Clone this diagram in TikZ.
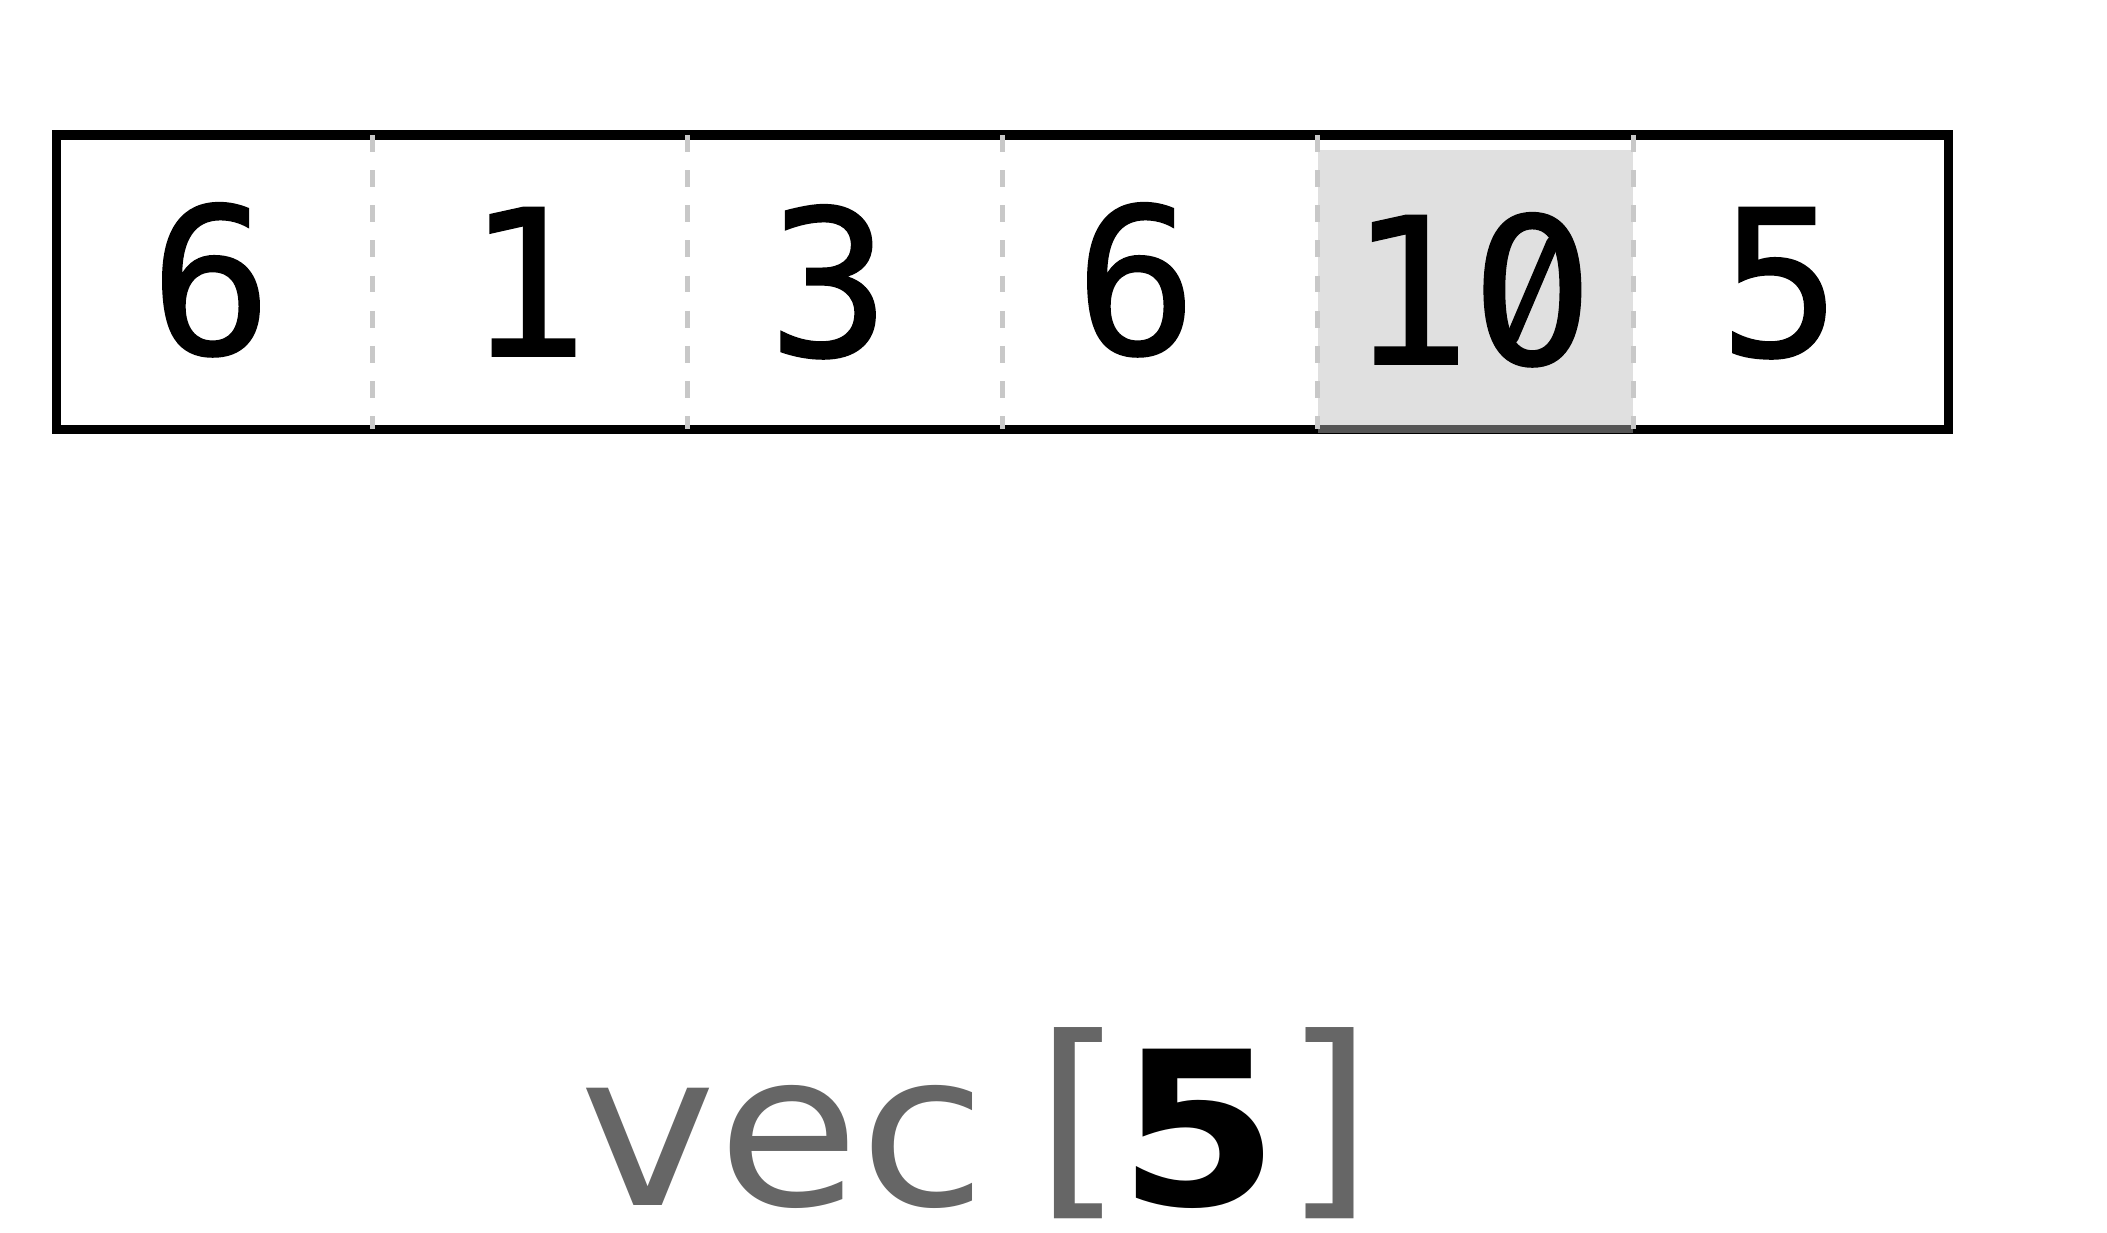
\documentclass[tikz,border=0pt]{standalone}
\usepackage{fontspec}
\setmainfont{DejaVu Sans}
\newfontfamily\monofont[FakeBold=0.8]{DejaVu Sans Mono}
\newfontfamily\lblfont[FakeStretch=1.08]{DejaVu Sans}
\definecolor{lblgray}{HTML}{666666}
\definecolor{divgray}{HTML}{C8C8C8}
\definecolor{hlgray}{RGB}{187,187,187}
\definecolor{hlbg}{RGB}{224,224,224}
\begin{document}
\begin{tikzpicture}[x=0.01cm,y=-0.01cm,
  cellbox/.style={draw=none, inner sep=0pt, outer sep=0pt,
    minimum width=3.152cm, minimum height=2.94cm},
  numtext/.style={inner sep=0pt, outer sep=0pt, text=black,
    font=\monofont\fontsize{58}{58}\selectfont,
    text height=1.56cm, text depth=0pt},
  divider/.style={draw=divgray, line width=1.4pt, dash pattern=on 4.8pt off 5.2pt},
  border/.style={draw=black, line width=2.6pt},
  hilite/.style={fill=hlgray, fill opacity=0.455},
  zeroslash/.style={draw=black, line width=3.6pt, line cap=round},
  lbltext/.style={inner sep=0pt, anchor=base, text=lblgray,
    font=\lblfont\fontsize{61}{61}\selectfont}]
\useasboundingbox (0,0) rectangle (2107,1232);
\fill[white] (0,0) rectangle (2107,1232);
% cells
\node (c0) [cellbox] at (214.6,282) {};
\node (c1) [cellbox] at (529.8,282) {};
\node (c2) [cellbox] at (845.0,282) {};
\node (c3) [cellbox] at (1160.2,282) {};
\node (c4) [cellbox] at (1475.4,282) {};
\node (c5) [cellbox] at (1790.6,282) {};
% outer border
\draw[border] (c0.north west) rectangle (c5.south east);
% highlight of the selected cell
\fill[hilite] ([yshift=-0.15cm]c4.north west) rectangle ([yshift=-0.04cm]c4.south east);
% dividers
\draw[divider] (c0.north east) -- (c0.south east);
\draw[divider] (c1.north east) -- (c1.south east);
\draw[divider] (c2.north east) -- (c2.south east);
\draw[divider] (c3.north east) -- (c3.south east);
\draw[divider] (c4.north east) -- (c4.south east);
% values
\node (t0) [numtext] at (211,276) {6};
\node (t1) [numtext] at (527,278) {1};
\node (t2) [numtext] at (829,278) {3};
\node (t3) [numtext] at (1136,276) {6};
\node (t4) [numtext] at (1471,286) {10};
\node (t5) [numtext] at (1780,278) {5};
% slashed zero of "10"
\coordinate (z0) at ([xshift=0.614cm,yshift=0.74cm]t4.base);
\fill[hlbg] (z0) circle[radius=0.17cm];
\draw[zeroslash] ([xshift=-0.2cm,yshift=-0.47cm]z0) -- ([xshift=0.2cm,yshift=0.47cm]z0);
% label
\node (lbl) [lbltext] at (977,1205) {vec\hspace{0.22em}\raisebox{0.07em}{[}\hspace{-0.03em}\textcolor{black}{\textbf{5}}\hspace{0.02em}\raisebox{0.07em}{]}};
\end{tikzpicture}
\end{document}
